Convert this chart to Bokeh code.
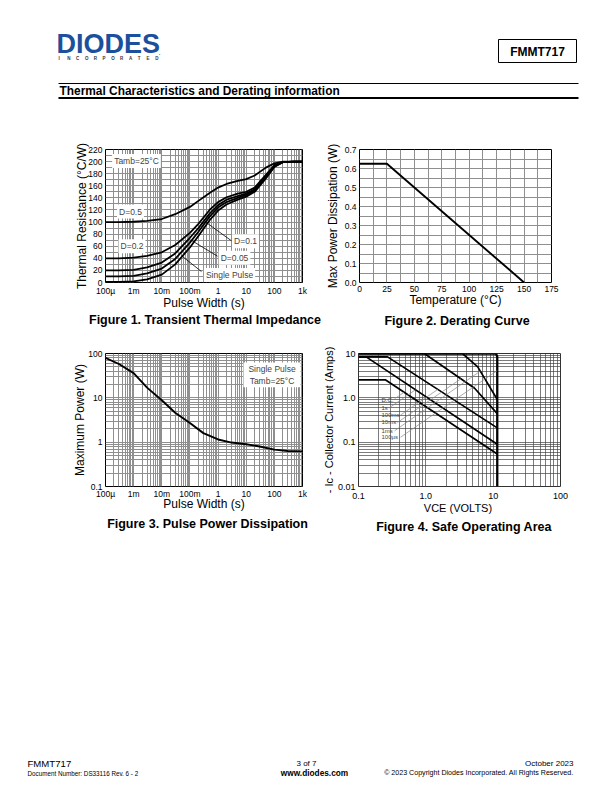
import math
from bokeh.plotting import figure
from bokeh.layouts import column, row
from bokeh.models import Range1d, FixedTicker, Label, BoxAnnotation, PrintfTickFormatter
from bokeh.core.properties import value
from bokeh.embed import file_html
from bokeh.resources import INLINE

FONT = "Liberation Sans"

# ---------------- data ----------------
# Figure 1: transient thermal impedance (deg C/W) vs pulse width (s)
zth_t = [1e-4, 3e-4, 1e-3, 3e-3, 1e-2, 3e-2, 0.1, 0.2, 0.5, 1, 2, 5, 10, 20, 50, 100, 200, 500, 1000]
zth_d05 = [100, 100, 100.5, 102, 105, 113, 125, 135, 148, 157, 163, 168, 171, 177, 190, 197, 200, 200, 200]
zth_d02 = [40, 40, 41, 44, 50, 62, 82, 97, 120, 133, 141, 147, 150, 157, 178, 194, 199, 200, 200]
zth_d01 = [20, 20, 21, 25, 33, 48, 74, 90, 114, 128, 137, 143, 147, 154, 176, 193, 199, 200, 200]
zth_d005 = [10, 10, 11, 15, 23, 39, 66, 84, 109, 124, 133, 140, 145, 152, 174, 192, 199, 200, 200]
zth_sp = [1, 1, 2, 5, 13, 30, 58, 77, 103, 119, 129, 137, 142, 150, 172, 191, 199, 200, 200]

# Figure 2: derating
derate_temp = [0, 25, 150]
derate_pd = [0.625, 0.625, 0.0]

# Figure 3: pulse power dissipation
ppk_t = [1e-4, 3e-4, 1e-3, 3e-3, 1e-2, 3e-2, 0.1, 0.3, 1, 3, 10, 30, 100, 300, 1000]
ppk_p = [80, 58, 36, 17, 8.8, 4.6, 2.7, 1.6, 1.15, 0.98, 0.9, 0.8, 0.68, 0.63, 0.62]

# Figure 4: safe operating area (VCE volts, IC amps)
soa_dc_v = [0.1, 0.25, 11.5]
soa_dc_i = [2.55, 2.55, 0.054]
soa_1s_v = [0.1, 0.13, 11.5]
soa_1s_i = [8.4, 8.4, 0.09]
soa_100ms_v = [0.1, 0.27, 11.5]
soa_100ms_i = [8.4, 8.4, 0.21]
soa_10ms_v = [0.1, 0.95, 5.3, 11.5]
soa_10ms_i = [10, 10, 1.65, 0.44]
soa_1ms_v = [0.1, 3.5, 5.9, 11.5]
soa_1ms_i = [10, 10, 5.0, 0.92]
soa_100us_v = [0.1, 11.0, 11.5, 11.5]
soa_100us_i = [10, 10, 8.5, 0.01]
soa_names = ["D.C.", "1s", "100ms", "10ms", "1ms", "100µs"]

# ticks
time_ticks = [1e-4, 1e-3, 1e-2, 1e-1, 1, 10, 100, 1000]
time_labels = ["100µ", "1m", "10m", "100m", "1", "10", "100", "1k"]
zth_ticks = [0, 20, 40, 60, 80, 100, 120, 140, 160, 180, 200, 220]
zth_minor = [10, 30, 50, 70, 90, 110, 130, 150, 170, 190, 210]
temp_ticks = [0, 25, 50, 75, 100, 125, 150, 175]
temp_minor = [12.5, 37.5, 62.5, 87.5, 112.5, 137.5, 162.5]
pd_ticks = [0.0, 0.1, 0.2, 0.3, 0.4, 0.5, 0.6, 0.7]
pd_minor = [0.05, 0.15, 0.25, 0.35, 0.45, 0.55, 0.65]
ppk_ticks = [0.1, 1, 10, 100]
ppk_labels = ["0.1", "1", "10", "100"]
vce_ticks = [0.1, 1, 10, 100]
vce_labels = ["0.1", "1.0", "10", "100"]
ic_ticks = [0.01, 0.1, 1, 10]
ic_labels = ["0.01", "0.1", "1.0", "10"]


def log_minor(lo_exp, hi_exp):
    return [m * 10.0 ** e for e in range(lo_exp, hi_exp) for m in range(2, 10)]


def page_fig(w, h, top, bottom, x0=0):
    p = figure(width=w, height=h, x_range=Range1d(x0, x0 + w), y_range=Range1d(bottom, top),
               output_backend="svg", toolbar_location=None, min_border=0,
               x_axis_location=None, y_axis_location=None)
    p.grid.visible = False
    p.outline_line_color = None
    p.background_fill_color = "white"
    p.border_fill_color = "white"
    return p


def ptext(p, x, y, t, size, align="left", bold=False, color="black", base="middle"):
    p.text(x=[x], y=[y], text=[t], text_font=value(FONT), text_font_size=value(size),
           text_align=align, text_baseline=base, text_color=color,
           text_font_style="bold" if bold else "normal")


def chart(w, h, xr, yr, xtype, ytype, bl, br, bt, bb, lab_size="8.5px", ax_size="12px",
          xstand=(3, -3), ystand=(3, 2)):
    p = figure(width=w, height=h, x_range=Range1d(*xr), y_range=Range1d(*yr),
               x_axis_type=xtype, y_axis_type=ytype, output_backend="svg",
               toolbar_location=None, min_border_left=bl, min_border_right=br,
               min_border_top=bt, min_border_bottom=bb)
    p.background_fill_color = "white"
    p.border_fill_color = "white"
    p.outline_line_color = "black"
    p.outline_line_width = 1
    for ax in p.axis:
        ax.axis_line_color = None
        ax.major_tick_line_color = None
        ax.minor_tick_line_color = None
        ax.major_tick_out = 0
        ax.major_tick_in = 0
        ax.minor_tick_out = 0
        ax.major_label_text_font = FONT
        ax.major_label_text_font_size = lab_size
        ax.major_label_text_color = "black"
        ax.axis_label_text_font = FONT
        ax.axis_label_text_font_size = ax_size
        ax.axis_label_text_font_style = "normal"
        ax.axis_label_text_color = "black"
    p.xaxis.major_label_standoff = xstand[0]
    p.xaxis.axis_label_standoff = xstand[1]
    p.yaxis.major_label_standoff = ystand[0]
    p.yaxis.axis_label_standoff = ystand[1]
    return p


def style_grid(p, color, width=1.0):
    for g in (p.xgrid, p.ygrid):
        g.grid_line_color = color
        g.grid_line_width = width
        g.minor_grid_line_color = color
        g.minor_grid_line_width = width


# ---------------- header (page y 0..130) ----------------
header = page_fig(604, 130, 0, 130)
ptext(header, 56, 43.5, "DIODES", "27px", bold=True, color="#1c4f9c")
ptext(header, 158, 52, ".", "8px", color="#1c4f9c")
inc = list("INCORPORATED")
header.text(x=[58 + i * 8.8 for i in range(len(inc))], y=[58] * len(inc), text=inc,
            text_font=value(FONT), text_font_size=value("4.5px"), text_baseline="middle",
            text_color="#333333", text_font_style="bold")
header.quad(left=[498], right=[576], top=[39], bottom=[62], fill_color=None, line_color="black", line_width=1)
ptext(header, 537, 51, "FMMT717", "12px", align="center", bold=True)
header.line(x=[58, 578], y=[83, 83], line_color="black", line_width=1)
header.line(x=[58, 578], y=[97.5, 97.5], line_color="black", line_width=2.2)
ptext(header, 59, 90.5, "Thermal Characteristics and Derating information", "11.9px", bold=True)

# ---------------- Figure 1 (page x 0..310, y 130..312) ----------------
c1 = chart(310, 182, (1e-4, 1e3), (0, 220), "log", "linear", 105, 8, 19, 29,
           xstand=(3, -3), ystand=(3, -4))
c1.xaxis.ticker = FixedTicker(ticks=time_ticks, minor_ticks=log_minor(-4, 3))
c1.xaxis.major_label_overrides = dict(zip(time_ticks, time_labels))
c1.yaxis.ticker = FixedTicker(ticks=zth_ticks, minor_ticks=zth_minor)
c1.xaxis.axis_label = "Pulse Width (s)"
c1.yaxis.axis_label = "Thermal Resistance (°C/W)"
style_grid(c1, "#8f8f8f")
for ys in (zth_d05, zth_d02, zth_d01, zth_d005, zth_sp):
    c1.line(zth_t, ys, line_color="black", line_width=1.8)


def zpt(px, py):
    return 10 ** (-4 + (px - 105) / 28.14), (283 - py) * 220 / 134


for (a, b) in [((231, 241), (205, 222)), ((217, 256.5), (190, 240)), ((201, 272), (181, 256))]:
    (x0, y0), (x1, y1) = zpt(*a), zpt(*b)
    c1.line([x0, x1], [y0, y1], line_color="black", line_width=0.8)

for (px, py, t) in [(136, 160.5, "Tamb=25°C"), (130, 211.5, "D=0.5"), (131.5, 246.5, "D=0.2"),
                    (245, 241.5, "D=0.1"), (234, 258, "D=0.05"), (229, 275.5, "Single Pulse")]:
    x, y = zpt(px, py)
    c1.add_layout(Label(x=x, y=y, text=t, text_font=FONT, text_font_size="8.5px",
                        text_align="center", text_baseline="middle",
                        background_fill_color="white", padding=2))

# ---------------- Figure 2 (page x 310..604) ----------------
c2 = chart(294, 182, (0, 175), (0, 0.7), "linear", "linear", 49, 53, 18, 29,
           xstand=(3, -2), ystand=(3, 2))
c2.xaxis.ticker = FixedTicker(ticks=temp_ticks, minor_ticks=temp_minor)
c2.yaxis.ticker = FixedTicker(ticks=pd_ticks, minor_ticks=pd_minor)
c2.yaxis.formatter = PrintfTickFormatter(format="%.1f")
c2.xaxis.axis_label = "Temperature (°C)"
c2.yaxis.axis_label = "Max Power Dissipation (W)"
style_grid(c2, "#8f8f8f")
c2.line(derate_temp, derate_pd, line_color="black", line_width=1.9)

# captions row 1 (page y 312..335)
cap_row1 = page_fig(604, 23, 312, 335)
ptext(cap_row1, 204.5, 319.5, "Figure 1. Transient Thermal Impedance", "12.5px", align="center", bold=True)
ptext(cap_row1, 456.5, 320, "Figure 2. Derating Curve", "12.5px", align="center", bold=True)

# ---------------- Figure 3 (page x 0..310, y 335..518) ----------------
c3 = chart(310, 183, (1e-4, 1e3), (0.1, 100), "log", "log", 105, 8, 17, 32,
           xstand=(2, -5), ystand=(3, -2))
c3.xaxis.ticker = FixedTicker(ticks=time_ticks, minor_ticks=log_minor(-4, 3))
c3.xaxis.major_label_overrides = dict(zip(time_ticks, time_labels))
c3.yaxis.ticker = FixedTicker(ticks=ppk_ticks, minor_ticks=log_minor(-1, 2))
c3.yaxis.major_label_overrides = dict(zip(ppk_ticks, ppk_labels))
c3.xaxis.axis_label = "Pulse Width (s)"
c3.yaxis.axis_label = "Maximum Power (W)"
style_grid(c3, "#8f8f8f")
c3.line(ppk_t, ppk_p, line_color="black", line_width=1.9)


def ppt(px, py):
    return 10 ** (-4 + (px - 105) / 28.14), 10 ** (2 - (py - 352) / 44.67)


bx0, by0 = ppt(243, 386)
bx1, by1 = ppt(300, 361)
c3.add_layout(BoxAnnotation(left=bx0, right=bx1, bottom=by0, top=by1, fill_color="white",
                            fill_alpha=1, line_color=None))
for (px, py, t) in [(271.5, 368, "Single Pulse"), (271.5, 380, "Tamb=25°C")]:
    x, y = ppt(px, py)
    c3.add_layout(Label(x=x, y=y, text=t, text_font=FONT, text_font_size="8.5px",
                        text_align="center", text_baseline="middle"))

# ---------------- Figure 4 (page x 310..604, y 335..518) ----------------
c4 = chart(294, 183, (0.1, 100), (0.01, 10), "log", "log", 48, 44, 18, 30,
           lab_size="9px", ax_size="11px", xstand=(6, 0), ystand=(3, 0))
c4.xaxis.ticker = FixedTicker(ticks=vce_ticks, minor_ticks=log_minor(-1, 2))
c4.xaxis.major_label_overrides = dict(zip(vce_ticks, vce_labels))
c4.yaxis.ticker = FixedTicker(ticks=ic_ticks, minor_ticks=log_minor(-2, 1))
c4.yaxis.major_label_overrides = dict(zip(ic_ticks, ic_labels))
c4.xaxis.axis_label = "VCE  (VOLTS)"
c4.yaxis.axis_label = "- Ic - Collector Current (Amps)"
c4.outline_line_color = "#333333"
style_grid(c4, "#444444", 0.7)
for vs, cs in [(soa_dc_v, soa_dc_i), (soa_1s_v, soa_1s_i), (soa_100ms_v, soa_100ms_i),
               (soa_10ms_v, soa_10ms_i), (soa_1ms_v, soa_1ms_i)]:
    c4.line(vs, cs, line_color="black", line_width=1.7)
c4.line(soa_100us_v, soa_100us_i, line_color="black", line_width=2.3)


def spt(px, py):
    return 10 ** (-1 + (px - 358) / 67.3), 10 ** (1 - (py - 353) / 45)


label_py = [400, 408.5, 415.5, 423, 431.5, 438]
leader_start = [(394, 399), (389, 408), (400, 415.5), (397, 423), (394, 431.5), (400, 438)]
leader_end = [(403.6, 392.3), (415, 389.8), (437.3, 389.4), (460.4, 378.7), (480, 370.7), (496.7, 370.3)]
for name, py, s, e in zip(soa_names, label_py, leader_start, leader_end):
    x, y = spt(381, py)
    c4.add_layout(Label(x=x, y=y, text=name, text_font=FONT, text_font_size="6px",
                        text_align="left", text_baseline="middle"))
    (x0, y0), (x1, y1) = spt(*s), spt(*e)
    c4.line([x0, x1], [y0, y1], line_color="#888888", line_width=0.7)

tx, ty = spt(361, 346)
c4.add_layout(Label(x=tx, y=ty, text="SINGLE PULSE TEST", text_font=FONT, text_font_size="8.5px",
                    text_align="left", text_baseline="middle"))
tx, ty = spt(455, 346)
c4.add_layout(Label(x=tx, y=ty, text="Tamb = 25 deg C", text_font=FONT, text_font_size="8.5px",
                    text_align="left", text_baseline="middle"))

# captions row 2 (page y 518..535)
cap_row2 = page_fig(604, 17, 518, 535)
ptext(cap_row2, 207, 523, "Figure 3. Pulse Power Dissipation", "12.5px", align="center", bold=True)
ptext(cap_row2, 463.5, 526, "Figure 4. Safe Operating Area", "12.5px", align="center", bold=True)

# ---------------- footer (page y 535..784) ----------------
footer = page_fig(604, 249, 535, 784)
ptext(footer, 27, 762.5, "FMMT717", "9.6px")
ptext(footer, 27, 772.5, "Document Number: DS33116 Rev. 6 - 2", "6.3px")
ptext(footer, 306, 763, "3 of 7", "8px", align="center")
ptext(footer, 314, 772.5, "www.diodes.com", "8.3px", align="center", bold=True)
ptext(footer, 573, 763, "October 2023", "8px", align="right")
ptext(footer, 573, 772, "© 2023 Copyright Diodes Incorporated. All Rights Reserved.", "7.1px", align="right")

layout = column(header, row(c1, c2, spacing=0), cap_row1, row(c3, c4, spacing=0), cap_row2, footer,
                spacing=0)
open("out.html", "w").write(file_html(layout, INLINE))
